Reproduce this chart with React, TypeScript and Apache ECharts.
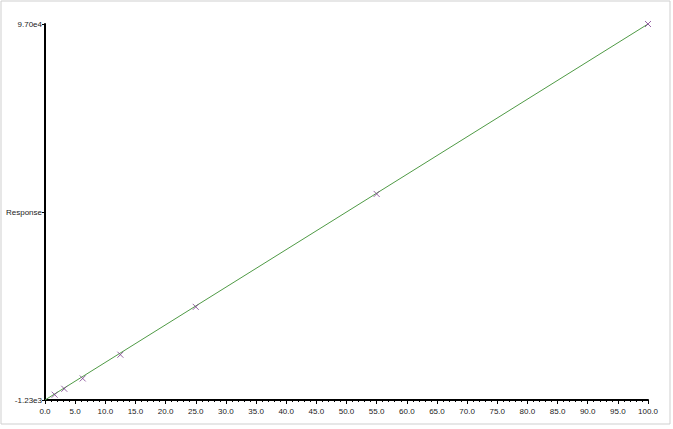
import { useEffect, useRef } from "react";
import * as echarts from "echarts";

const levels = [1.6, 3.2, 6.25, 12.5, 25, 55, 100];
const responses = [150, 1700, 4400, 10600, 23100, 52600, 97000];
// fitted calibration line end points
const fitX = [0, 100];
const fitY = [-1230, 97000];
const yTicks = [-1230, 47885, 97000];
const yTickLabels = ["-1.23e3", "Response", "9.70e4"];

const App = () => {
  const chartRef = useRef<HTMLDivElement>(null);

  useEffect(() => {
    if (!chartRef.current) return;
    const chart = echarts.init(chartRef.current, null, { renderer: "svg" });

    const option: echarts.EChartsOption = {
      animation: false,
      backgroundColor: "#ffffff",
      textStyle: { fontFamily: "Liberation Sans, Arial, sans-serif" },
      grid: { left: 45, right: 25, top: 24, bottom: 29 },
      graphic: [
        {
          type: "rect",
          shape: { x: 1, y: 1, width: 669, height: 423 },
          style: { fill: "none", stroke: "#cfcfcf", lineWidth: 1 },
          silent: true,
        },
      ],
      xAxis: {
        type: "value",
        min: 0,
        max: 100,
        interval: 5,
        splitLine: { show: false },
        axisLine: { onZero: false, lineStyle: { color: "#000", width: 2 } },
        axisTick: { length: 4, lineStyle: { color: "#000", width: 1 } },
        minorTick: { show: true, splitNumber: 5, length: 2, lineStyle: { color: "#000" } },
        axisLabel: {
          color: "#222",
          fontSize: 8,
          margin: 7,
          formatter: (v: number) => v.toFixed(1),
        },
      },
      yAxis: {
        type: "value",
        min: -1230,
        max: 97000,
        splitLine: { show: false },
        axisLine: { show: true, onZero: false, lineStyle: { color: "#000", width: 2 } },
        axisTick: {
          show: true,
          length: 3,
          customValues: yTicks,
          lineStyle: { color: "#000" },
        },
        axisLabel: {
          color: "#222",
          fontSize: 8,
          margin: 3,
          customValues: yTicks,
          formatter: (v: number) => yTickLabels[yTicks.indexOf(v)] ?? "",
        },
      },
      series: [
        {
          type: "line",
          data: fitX.map((x, i) => [x, fitY[i]]),
          showSymbol: false,
          lineStyle: { color: "#4f9a45", width: 1 },
          z: 2,
        },
        {
          type: "scatter",
          data: levels.map((x, i) => [x, responses[i]]),
          symbol: "path://M0,0L10,10M10,0L0,10",
          symbolSize: 6,
          itemStyle: { color: "none", borderColor: "#7d3f8f", borderWidth: 1 },
          z: 3,
        },
      ],
    };

    chart.setOption(option);
    return () => {
      chart.dispose();
    };
  }, []);

  return (
    <div
      ref={chartRef}
      style={{ position: "fixed", left: 0, top: 0, width: "673px", height: "429px" }}
    />
  );
};

export default App;
